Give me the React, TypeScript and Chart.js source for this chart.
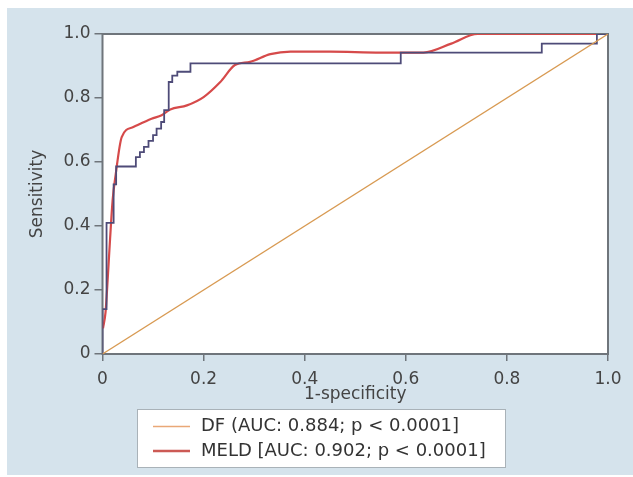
import React, { useEffect, useRef } from "react";
import { Chart, registerables } from "chart.js";

Chart.register(...registerables);

const tickValues = [0, 0.2, 0.4, 0.6, 0.8, 1.0];
const xTickLabels = ["0", "0.2", "0.4", "0.6", "0.8", "1.0"];
const yTickLabels = ["0", "0.2", "0.4", "0.6", "0.8", "1.0"];

const xTitle = "1-specificity";
const yTitle = "Sensitivity";

// reference (chance) diagonal
const refX = [0, 1];
const refY = [0, 1];

// DF ROC (step curve)
const dfX = [
  0, 0, 0.008, 0.008, 0.022, 0.022, 0.027, 0.027, 0.066, 0.066,
  0.074, 0.074, 0.082, 0.082, 0.091, 0.091, 0.1, 0.1, 0.107, 0.107,
  0.116, 0.116, 0.122, 0.122, 0.131, 0.131, 0.138, 0.138, 0.148, 0.148,
  0.174, 0.174, 0.59, 0.59, 0.869, 0.869, 0.978, 0.978, 1.0,
];
const dfY = [
  0, 0.14, 0.14, 0.41, 0.41, 0.53, 0.53, 0.586, 0.586, 0.615,
  0.615, 0.631, 0.631, 0.647, 0.647, 0.666, 0.666, 0.684, 0.684, 0.704,
  0.704, 0.725, 0.725, 0.762, 0.762, 0.85, 0.85, 0.87, 0.87, 0.882,
  0.882, 0.908, 0.908, 0.942, 0.942, 0.97, 0.97, 1.0, 1.0,
];

// MELD ROC (smooth curve)
const meldX = [
  0.001, 0.006, 0.009, 0.012, 0.015, 0.02, 0.026, 0.038, 0.061, 0.097,
  0.117, 0.134, 0.167, 0.2, 0.233, 0.262, 0.292, 0.332, 0.372, 0.45,
  0.55, 0.635, 0.69, 0.742, 1.0,
];
const meldY = [
  0.08, 0.13, 0.2, 0.28, 0.36, 0.48, 0.56, 0.678, 0.709, 0.735,
  0.746, 0.764, 0.777, 0.803, 0.85, 0.903, 0.913, 0.937, 0.945, 0.945,
  0.942, 0.942, 0.97, 1.0, 1.0,
];

const legendLabels = ["DF (AUC: 0.884; p < 0.0001]", "MELD [AUC: 0.902; p < 0.0001]"];

const toPoints = (xs: number[], ys: number[]) => xs.map((x, i) => ({ x, y: ys[i] }));

const FONT = "'DejaVu Sans', sans-serif";
const AXIS_COLOR = "#6f757b";
const TEXT_COLOR = "#444";

export default function App() {
  const canvasRef = useRef<HTMLCanvasElement | null>(null);

  useEffect(() => {
    document.body.style.margin = "0";
    const canvas = canvasRef.current;
    if (!canvas) return;

    const bgPlugin = {
      id: "bgPlugin",
      beforeDraw(chart: any) {
        const { ctx, chartArea } = chart;
        ctx.save();
        ctx.fillStyle = "#ffffff";
        ctx.fillRect(0, 0, chart.width, chart.height);
        ctx.fillStyle = "#d5e3ec";
        ctx.fillRect(7, 8, chart.width - 7, chart.height - 10);
        ctx.fillStyle = "#ffffff";
        ctx.fillRect(chartArea.left, chartArea.top, chartArea.right - chartArea.left, chartArea.bottom - chartArea.top);
        ctx.restore();
      },
      beforeDatasetsDraw(chart: any) {
        const { ctx, chartArea } = chart;
        ctx.save();
        ctx.strokeStyle = AXIS_COLOR;
        ctx.lineWidth = 2;
        ctx.strokeRect(chartArea.left, chartArea.top, chartArea.right - chartArea.left, chartArea.bottom - chartArea.top);
        ctx.restore();
      },
      afterDraw(chart: any) {
        const { ctx } = chart;
        ctx.save();
        const bx = 137, by = 409, bw = 368, bh = 58;
        ctx.fillStyle = "#ffffff";
        ctx.fillRect(bx, by, bw, bh);
        ctx.strokeStyle = "#a9b2b8";
        ctx.lineWidth = 1;
        ctx.strokeRect(bx + 0.5, by + 0.5, bw, bh);
        const colors = ["#e9a877", "#cc5a55"];
        const widths = [1.5, 2.5];
        const rows = [426.5, 451];
        ctx.font = `18px ${FONT}`;
        ctx.textBaseline = "middle";
        ctx.textAlign = "left";
        legendLabels.forEach((lab, i) => {
          ctx.strokeStyle = colors[i];
          ctx.lineWidth = widths[i];
          ctx.beginPath();
          ctx.moveTo(153, rows[i]);
          ctx.lineTo(190, rows[i]);
          ctx.stroke();
          ctx.fillStyle = "#333";
          ctx.fillText(lab, 201, rows[i]);
        });
        ctx.restore();
      },
    };

    const chart = new Chart(canvas, {
      type: "line",
      data: {
        datasets: [
          {
            label: "Reference",
            data: toPoints(refX, refY),
            borderColor: "#d89a52",
            borderWidth: 1.3,
            pointRadius: 0,
            fill: false,
          },
          {
            label: "DF",
            data: toPoints(dfX, dfY),
            borderColor: "#4e4b78",
            borderWidth: 1.8,
            pointRadius: 0,
            tension: 0,
            fill: false,
          },
          {
            label: "MELD",
            data: toPoints(meldX, meldY),
            borderColor: "#d64a4a",
            borderWidth: 2.2,
            pointRadius: 0,
            cubicInterpolationMode: "monotone",
            fill: false,
          },
        ],
      },
      options: {
        animation: false,
        responsive: false,
        devicePixelRatio: 1,
        layout: { padding: { left: 0, right: 25, top: 34, bottom: 71 } },
        plugins: {
          legend: { display: false },
          tooltip: { enabled: false },
        },
        scales: {
          x: {
            type: "linear",
            min: 0,
            max: 1,
            afterBuildTicks(scale: any) {
              scale.ticks = tickValues.map((v) => ({ value: v }));
            },
            afterFit(scale: any) {
              scale.height = 52;
            },
            ticks: {
              callback: (_v: any, i: number) => xTickLabels[i],
              font: { family: FONT, size: 17 },
              color: TEXT_COLOR,
              padding: 8,
              maxRotation: 0,
            },
            grid: {
              drawOnChartArea: false,
              drawTicks: true,
              tickLength: 7,
              color: AXIS_COLOR,
              lineWidth: 1.5,
            },
            border: { display: false },
            title: {
              display: true,
              text: xTitle,
              font: { family: FONT, size: 17 },
              color: TEXT_COLOR,
              padding: { top: 0, bottom: 1 },
            },
          },
          y: {
            type: "linear",
            min: 0,
            max: 1,
            afterBuildTicks(scale: any) {
              scale.ticks = tickValues.map((v) => ({ value: v }));
            },
            afterFit(scale: any) {
              scale.width = 102.5;
            },
            ticks: {
              callback: (_v: any, i: number) => yTickLabels[i],
              font: { family: FONT, size: 17 },
              color: TEXT_COLOR,
              padding: 4,
            },
            grid: {
              drawOnChartArea: false,
              drawTicks: true,
              tickLength: 8,
              color: AXIS_COLOR,
              lineWidth: 1.5,
            },
            border: { display: false },
            title: {
              display: true,
              text: yTitle,
              font: { family: FONT, size: 17 },
              color: TEXT_COLOR,
              padding: { top: 27, bottom: 0 },
            },
          },
        },
      },
      plugins: [bgPlugin],
    } as any);

    return () => chart.destroy();
  }, []);

  return (
    <div style={{ width: 633, height: 477 }}>
      <canvas ref={canvasRef} width={633} height={477} style={{ display: "block" }} />
    </div>
  );
}
